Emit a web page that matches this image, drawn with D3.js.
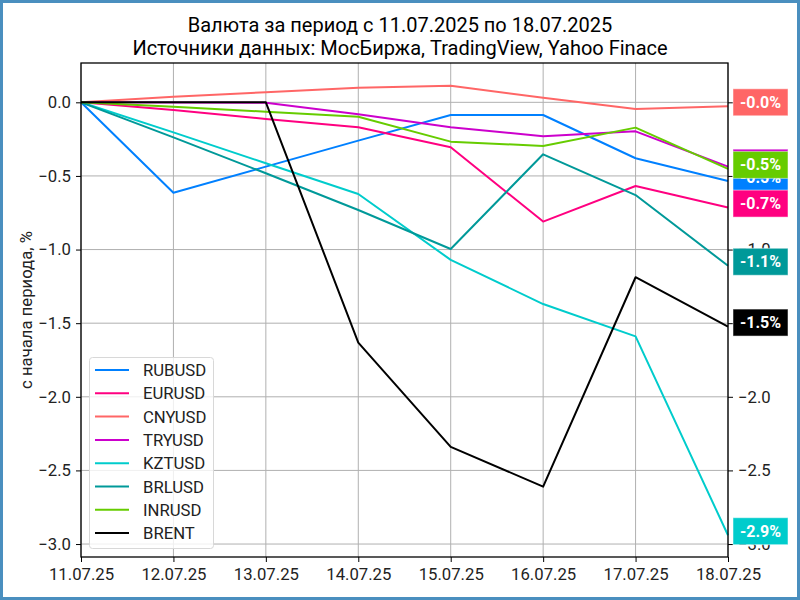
<!DOCTYPE html>
<html>
<head>
<meta charset="utf-8">
<script src="https://cdn.jsdelivr.net/npm/d3@7"></script>
<style>
  body { margin: 0; background: #fff; }
  svg { font-family: Roboto, "DejaVu Sans", sans-serif; }
</style>
</head>
<body>
<svg id="chart" width="800" height="600"></svg>
<script>
// dates and series (% change since start of period)
var dates = ["11.07.25", "12.07.25", "13.07.25", "14.07.25", "15.07.25", "16.07.25", "17.07.25", "18.07.25"];
var names = ["RUBUSD", "EURUSD", "CNYUSD", "TRYUSD", "KZTUSD", "BRLUSD", "INRUSD", "BRENT"];
var colors = ["#0080ff", "#ff0080", "#ff6666", "#cc00cc", "#00cccc", "#009999", "#66cc00", "#000000"];

var rubusd = [0, -0.614, -0.437, -0.26, -0.086, -0.086, -0.38, -0.535];
var eurusd = [0, -0.052, -0.113, -0.17, -0.305, -0.81, -0.568, -0.715];
var cnyusd = [0, 0.038, 0.068, 0.099, 0.113, 0.031, -0.045, -0.027];
var tryusd = [0, -0.002, -0.003, -0.081, -0.17, -0.23, -0.197, -0.437];
var kztusd = [0, -0.204, -0.414, -0.623, -1.07, -1.37, -1.59, -2.94];
var brlusd = [0, -0.238, -0.482, -0.731, -0.996, -0.353, -0.63, -1.11];
var inrusd = [0, -0.03, -0.064, -0.098, -0.267, -0.297, -0.172, -0.452];
var brent  = [0, 0, 0, -1.632, -2.34, -2.61, -1.188, -1.523];

var yTicks = [0, -0.5, -1.0, -1.5, -2.0, -2.5, -3.0];

var seriesValues = [rubusd, eurusd, cnyusd, tryusd, kztusd, brlusd, inrusd, brent];

var svg = d3.select("#chart");
var W = 800, H = 600;
var margin = {top: 63, right: 72, bottom: 43, left: 81};
var iw = W - margin.left - margin.right;
var ih = H - margin.top - margin.bottom;
var fs = 16.7;

// frame
svg.append("rect")
  .attr("x", 1.5).attr("y", 1.5)
  .attr("width", W - 3).attr("height", H - 3)
  .attr("fill", "#fff").attr("stroke", "#4a8fbf").attr("stroke-width", 3);

// title
svg.append("text").attr("x", 400).attr("y", 32).attr("text-anchor", "middle")
  .attr("font-size", 20).text("Валюта за период с 11.07.2025 по 18.07.2025");
svg.append("text").attr("x", 400).attr("y", 55).attr("text-anchor", "middle")
  .attr("font-size", 20).text("Источники данных: МосБиржа, TradingView, Yahoo Finace");

var x = d3.scalePoint().domain(dates).range([0, iw]);
var y = d3.scaleLinear().domain([-3.088, 0.267]).range([ih, 0]);

var g = svg.append("g").attr("transform", "translate(" + margin.left + "," + margin.top + ")");

// grid
g.append("g").selectAll("line").data(dates).enter().append("line")
  .attr("x1", function(d) { return x(d); }).attr("x2", function(d) { return x(d); })
  .attr("y1", 0).attr("y2", ih)
  .attr("stroke", "#b0b0b0").attr("stroke-width", 1);
g.append("g").selectAll("line").data(yTicks).enter().append("line")
  .attr("x1", 0).attr("x2", iw)
  .attr("y1", function(d) { return y(d); }).attr("y2", function(d) { return y(d); })
  .attr("stroke", "#b0b0b0").attr("stroke-width", 1);

var fmt = function(d) { return d.toFixed(1).replace("-", "\u2212"); };

// axes
var xAxis = g.append("g").attr("transform", "translate(0," + ih + ")")
  .call(d3.axisBottom(x).tickSize(5).tickPadding(6));
var yAxisL = g.append("g")
  .call(d3.axisLeft(y).tickValues(yTicks).tickFormat(fmt).tickSize(5).tickPadding(5));
var yAxisR = g.append("g").attr("transform", "translate(" + iw + ",0)")
  .call(d3.axisRight(y).tickValues(yTicks).tickFormat(fmt).tickSize(5).tickPadding(5));

[xAxis, yAxisL, yAxisR].forEach(function(a) {
  a.select(".domain").remove();
  a.selectAll("text").attr("font-size", fs).attr("fill", "#222").attr("font-family", "Roboto, sans-serif");
  a.selectAll("line").attr("stroke", "#000");
});

// lines
var line = d3.line()
  .x(function(d, i) { return x(dates[i]); })
  .y(function(d) { return y(d); });

seriesValues.forEach(function(vals, k) {
  g.append("path").datum(vals)
    .attr("fill", "none")
    .attr("stroke", colors[k])
    .attr("stroke-width", 2)
    .attr("stroke-linejoin", "round")
    .attr("d", line);
});

// spines
g.append("rect").attr("x", 0).attr("y", 0).attr("width", iw).attr("height", ih)
  .attr("fill", "none").attr("stroke", "#000").attr("stroke-width", 1.3);

// end labels
seriesValues.forEach(function(vals, k) {
  var v = vals[vals.length - 1];
  var cy = y(v) - 4;
  var lg = g.append("g").attr("transform", "translate(" + (iw + 5) + "," + cy + ")");
  lg.append("rect").attr("x", 0).attr("y", -13.5).attr("width", 55).attr("height", 27)
    .attr("fill", colors[k]).attr("stroke", "#fff").attr("stroke-opacity", 0.5);
  lg.append("text").attr("x", 27.5).attr("y", 5.5).attr("text-anchor", "middle")
    .attr("fill", "#fff").attr("font-size", 16).attr("font-weight", "bold")
    .text(v.toFixed(1) + "%");
});

// y label
svg.append("text")
  .attr("transform", "translate(32," + (margin.top + ih / 2) + ") rotate(-90)")
  .attr("text-anchor", "middle").attr("font-size", fs).attr("fill", "#222")
  .text("с начала периода, %");

// legend
var lx = 89, ly = 357;
svg.append("rect").attr("x", lx + 0.5).attr("y", ly + 0.5).attr("width", 124).attr("height", 191)
  .attr("rx", 3).attr("fill", "#fff").attr("fill-opacity", 0.8).attr("stroke", "#d8d8d8");
names.forEach(function(n, k) {
  var ry = ly + 13 + k * 23.3;
  svg.append("line").attr("x1", lx + 6).attr("x2", lx + 40).attr("y1", ry).attr("y2", ry)
    .attr("stroke", colors[k]).attr("stroke-width", 2);
  svg.append("text").attr("x", lx + 54).attr("y", ry + 6).attr("font-size", fs).attr("fill", "#222").text(n);
});
</script>
</body>
</html>
